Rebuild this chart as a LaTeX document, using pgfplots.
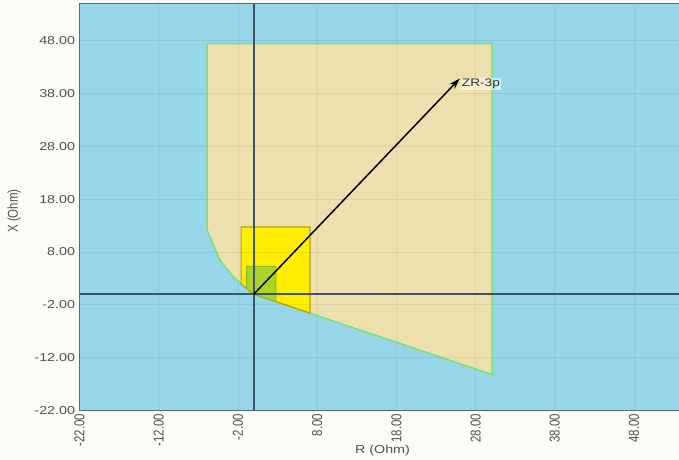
\documentclass[border=0pt]{standalone}
\usepackage{fontspec}
\setmainfont{Liberation Sans}
\usepackage{pgfplots}
\pgfplotsset{compat=1.18}
\usetikzlibrary{arrows.meta}

\definecolor{plotblue}{RGB}{151,214,233}
\definecolor{zonetan}{RGB}{237,224,174}
\definecolor{zoneedge}{RGB}{120,226,120}
\definecolor{zoneyellow}{RGB}{255,238,0}
\definecolor{yellowedge}{RGB}{176,164,20}
\definecolor{zonegreen}{RGB}{172,212,40}
\definecolor{greenedge}{RGB}{140,182,40}
\definecolor{zeroline}{RGB}{62,84,98}
\definecolor{framecol}{RGB}{88,108,120}
\definecolor{labelgray}{RGB}{80,80,80}
\definecolor{pagebg}{RGB}{251,251,248}

\newcommand{\lblfont}{\fontsize{11.5}{13}\selectfont}

\begin{document}
\begin{tikzpicture}
\fill[pagebg] (0,0) rectangle (679bp,460bp);
\useasboundingbox (0,0) rectangle (679bp,460bp);
\begin{axis}[
  at={(79.5bp,49.5bp)}, anchor=south west,
  scale only axis, width=606bp, height=407bp,
  xmin=-22, xmax=54.5, ymin=-22, ymax=55,
  xtick={-22,-12,...,48}, ytick={-22,-12,...,48},
  major tick length=0pt,
  axis background/.style={fill=plotblue},
  axis line style={framecol, line width=1.5bp},
  axis on top,
  grid=major,
  major grid style={draw=black, opacity=0.06, line width=0.6bp},
  /pgf/number format/.cd, fixed, fixed zerofill, precision=2, assume math mode=true,
  /pgfplots/.cd,
  xticklabel style={font=\lblfont, text=labelgray, xscale=1.25, rotate=90, anchor=east},
  yticklabel style={font=\lblfont, text=labelgray, xscale=1.25, anchor=east},
  xlabel={R (Ohm)},
  xlabel style={font=\lblfont, text=labelgray, xscale=1.25, at={(axis description cs:0.5,-0.0995)}, anchor=center},
  ylabel={X (Ohm)},
  ylabel style={font=\lblfont, text=labelgray, yscale=1.25, at={(axis description cs:-0.108,0.49)}, anchor=center},
]
% outer zone
\addplot[fill=zonetan, draw=zoneedge, line width=1.5bp] coordinates {
  (-5.9,47.4) (30.1,47.4) (30.1,-15.2) (0,0) (-0.4,0.46) (-2.6,3.3) (-4.3,6.5) (-5.9,12.2)
} -- cycle;
% middle zone
\addplot[fill=zoneyellow, draw=yellowedge, line width=1.2bp] coordinates {
  (-1.6,12.7) (7.1,12.7) (7.1,-3.57) (0,0) (-0.4,0.46) (-1.6,2.0)
} -- cycle;
% inner zone
\addplot[fill=zonegreen, draw=greenedge, line width=1bp] coordinates {
  (-0.9,5.25) (2.8,5.25) (2.8,-1.41) (0,0) (-0.4,0.46) (-0.9,1.1)
} -- cycle;
% R and X axes through the origin
\draw[zeroline, line width=1.8bp] (axis cs:0,-22) -- (axis cs:0,55);
\draw[zeroline, line width=1.8bp] (axis cs:-22,0) -- (axis cs:54.5,0);
% fault impedance vector
\addplot[black, line width=1.5bp, -{Stealth[length=11bp,width=7bp]}] coordinates {(0,0) (26,40.8)}
  node[pos=1, anchor=west, yshift=-5bp, font=\fontsize{11}{12}\selectfont, xscale=1.25,
       fill=white, fill opacity=0.55, text opacity=1, text=labelgray!60!black, inner sep=1bp] {ZR-3p};
\end{axis}
\end{tikzpicture}
\end{document}
